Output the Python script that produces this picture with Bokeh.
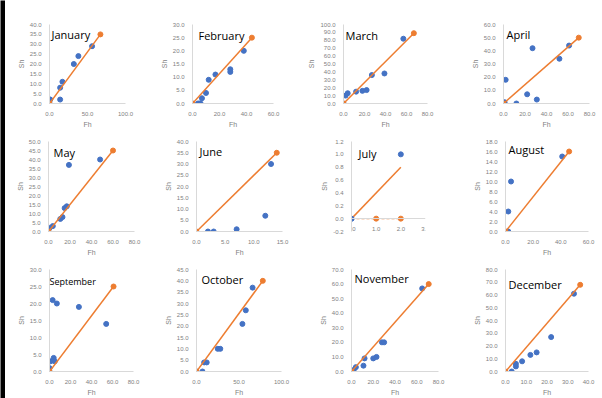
from bokeh.plotting import figure
from bokeh.layouts import row, column
from bokeh.models import Range1d, FixedTicker, NumeralTickFormatter, Label, BoxAnnotation
from bokeh.embed import file_html
from bokeh.resources import INLINE

# ---------------- data ----------------
MONTHS = ["January", "February", "March", "April", "May", "June",
          "July", "August", "September", "October", "November", "December"]

jan_fh = [0, 0, 1, 14, 14, 17, 32, 38, 56]
jan_sh = [0, 2, 2, 2, 8, 11, 20, 24, 29]
feb_fh = [0, 4, 5, 6, 7, 10, 12, 17, 28, 28, 38]
feb_sh = [0, 0, 0, 0, 2, 4, 9, 11, 12, 13, 20]
mar_fh = [0, 2, 4, 12, 18, 22, 27, 39, 57]
mar_sh = [0, 10, 13, 15, 16, 17, 36, 38, 82]
apr_fh = [0, 1, 2, 12, 22, 27, 31, 52, 61]
apr_sh = [0, 1, 18, 0, 7, 42, 3, 34, 44]
may_fh = [0, 1, 4, 11, 13, 15, 17, 19, 48]
may_sh = [0, 2, 3, 7, 8, 13, 14, 37, 40]
jun_fh = [2, 3, 7, 12, 13]
jun_sh = [0, 0, 1, 7, 30]
jul_fh = [0, 2]
jul_sh = [0, 1]
aug_fh = [0, 2, 2, 4, 41]
aug_sh = [0, 0, 4, 10, 15]
sep_fh = [0, 0, 1, 4, 5, 3, 7, 28, 54]
sep_sh = [0, 1, 3, 4, 3, 21, 20, 19, 14]
oct_fh = [0, 7, 9, 12, 25, 28, 54, 58, 66]
oct_sh = [0, 0, 4, 4, 10, 10, 21, 27, 37]
nov_fh = [0, 2, 4, 11, 12, 20, 23, 28, 30, 65]
nov_sh = [0, 1, 3, 4, 9, 9, 10, 20, 20, 57]
dec_fh = [3, 5, 5, 8, 12, 15, 22, 33]
dec_sh = [0, 4, 6, 8, 13, 15, 27, 61]

# orange reference line: from origin to this end point
line_end_fh = [67, 44, 67, 70, 60, 14, 2, 46, 61, 78, 71, 36]
line_end_sh = [35, 25, 89, 50, 45, 35, 0.8, 16, 25, 40, 60, 68]

# July's second orange series (dashed along the axis)
jul_flat_fh = [0, 1, 2]
jul_flat_sh = [0, 0, 0]

# axis scales: (start, end, step)
x_axes = [(0, 100, 50), (0, 60, 20), (0, 80, 20), (0, 80, 20),
          (0, 80, 20), (0, 15, 5), (0, 3, 1), (0, 60, 20),
          (0, 80, 20), (0, 100, 50), (0, 80, 20), (0, 40, 10)]
y_axes = [(0, 40, 5), (0, 30, 5), (0, 100, 10), (0, 60, 10),
          (0, 50, 5), (0, 40, 5), (-0.2, 1.2, 0.2), (0, 18, 2),
          (0, 30, 5), (0, 45, 5), (0, 70, 10), (0, 80, 10)]

FH = [jan_fh, feb_fh, mar_fh, apr_fh, may_fh, jun_fh, jul_fh, aug_fh, sep_fh, oct_fh, nov_fh, dec_fh]
SH = [jan_sh, feb_sh, mar_sh, apr_sh, may_sh, jun_sh, jul_sh, aug_sh, sep_sh, oct_sh, nov_sh, dec_sh]

# ---------------- layout / style ----------------
TOP_BAR = 4
COL_W = [145, 150, 150, 152]
ROW_H = [126 + TOP_BAR, 128, 140]
# (left, right, top, bottom) borders per panel
BORDERS = [(44, 25, 20 + TOP_BAR, 17), (42, 27, 20 + TOP_BAR, 17),
           (43, 23, 20 + TOP_BAR, 17), (53, 13, 17 + TOP_BAR, 17),
           (43, 16, 11, 20), (46, 18, 6, 19), (51, 25, 6, 3), (55, 14, 6, 16),
           (44, 17, 10, 26), (46, 19, 3, 26), (51, 12, 11, 26), (55, 14, 3, 26)]
TITLE_OFF = [(2, 2), (6, 3), (2, 3), (3, 2), (5, 3), (3, 2),
             (7, 4), (3, 0), (0, 5), (5, 2), (3, 1), (3, 7)]
TITLE_SIZE = ["11px"] * 12
TITLE_SIZE[8] = "9px"

BLUE = "#4472C4"
ORANGE = "#ED7D31"
AXIS_C = "#D9D9D9"
TICK_C = "#7F7F7F"


def ticks(spec):
    s, e, st = spec
    out = []
    v = s
    while v <= e + 1e-9:
        out.append(round(v, 6))
        v += st
    return out


def make_panel(i):
    r, c = divmod(i, 4)
    bl, br, bt, bb = BORDERS[i]
    xs, ys = x_axes[i], y_axes[i]
    p = figure(width=COL_W[c], height=ROW_H[r], output_backend="svg",
               toolbar_location=None,
               x_range=Range1d(xs[0], xs[1]), y_range=Range1d(ys[0], ys[1]),
               min_border_left=bl, min_border_right=br,
               min_border_top=bt, min_border_bottom=bb)
    p.outline_line_color = None
    p.xgrid.visible = False
    p.ygrid.visible = False
    p.background_fill_color = "white"
    p.border_fill_color = "white"

    for ax, spec, lab in ((p.xaxis, xs, "Fh"), (p.yaxis, ys, "Sh")):
        ax.ticker = FixedTicker(ticks=ticks(spec))
        ax.formatter = NumeralTickFormatter(format="0.0")
        ax.axis_label = lab
        ax.axis_line_color = AXIS_C
        ax.major_tick_line_color = None
        ax.minor_tick_line_color = None
        ax.major_label_text_font = "Liberation Sans"
        ax.major_label_text_font_size = "6px"
        ax.major_label_text_color = TICK_C
        ax.axis_label_text_font = "Liberation Sans"
        ax.axis_label_text_font_size = "7px"
        ax.axis_label_text_font_style = "normal"
        ax.axis_label_text_color = TICK_C
        ax.major_label_standoff = 2
        ax.axis_label_standoff = 2
    if ys[0] < 0:
        p.xaxis.fixed_location = 0

    p.scatter(FH[i], SH[i], size=5, color=BLUE)
    if MONTHS[i] == "July":
        p.line(jul_flat_fh, jul_flat_sh, color=ORANGE, line_width=1.3, line_dash="3 2")
        p.scatter(jul_flat_fh[1:], jul_flat_sh[1:], size=5, color=ORANGE)
        p.line([0, line_end_fh[i]], [0, line_end_sh[i]], color=ORANGE, line_width=1.5)
        p.scatter([0], [0], size=5, color=BLUE)
    else:
        p.line([0, line_end_fh[i]], [0, line_end_sh[i]], color=ORANGE, line_width=1.5)
        p.scatter([0, line_end_fh[i]], [0, line_end_sh[i]], size=5, color=ORANGE)

    dx, dy = TITLE_OFF[i]
    p.add_layout(Label(x=xs[0], y=ys[1], x_offset=dx, y_offset=-dy,
                       text=MONTHS[i], text_font="Open Sans",
                       text_font_size=TITLE_SIZE[i], text_color="black",
                       text_baseline="top", text_align="left"))
    if r == 0:
        # black frame edge of the photographed page (top)
        p.add_layout(BoxAnnotation(left=0, right=COL_W[c], top=0, bottom=TOP_BAR,
                                   left_units="canvas", right_units="canvas",
                                   top_units="canvas", bottom_units="canvas",
                                   fill_color="black", fill_alpha=1.0,
                                   line_color=None, level="overlay"))
    return p


def black_bar(w, h):
    b = figure(width=w, height=h, output_backend="svg", toolbar_location=None,
               title=None, min_border=0,
               x_range=Range1d(0, 1), y_range=Range1d(0, 1))
    b.axis.visible = False
    b.grid.visible = False
    b.outline_line_color = None
    b.background_fill_color = "black"
    b.border_fill_color = "black"
    return b


panels = [make_panel(i) for i in range(12)]
rows = [row(*panels[k * 4:(k + 1) * 4], spacing=0) for k in range(3)]
grid = column(*rows, spacing=0)

page = row(black_bar(5, sum(ROW_H)), grid, spacing=0)

open("out.html", "w").write(file_html(page, INLINE))
